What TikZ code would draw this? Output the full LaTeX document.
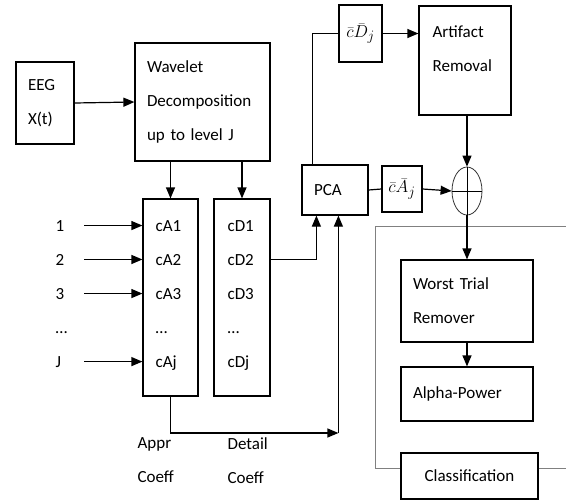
\documentclass[tikz,border=0pt]{standalone}
\usepackage{fontspec}
\setmainfont{Carlito}
\usetikzlibrary{arrows.meta, shapes.geometric, calc}

\begin{document}
\begin{tikzpicture}[x=1pt, y=-1pt, >={Triangle[length=11pt,width=9pt]},
  line width=1.2pt, font=\fontsize{17}{34}\selectfont,
  box/.style={draw, fill=white, inner xsep=12pt, inner ysep=0pt, align=left},
  mbox/.style={draw, fill=white, inner sep=0pt, font=\fontsize{19}{24}\selectfont},
  txt/.style={inner sep=0pt, align=left}]
  \useasboundingbox (0,0) rectangle (566,501);
  % frame round the last stages
  \coordinate (fbl) at (375,468);
  \coordinate (ftl) at (375,226);
  \draw[gray, line width=0.8pt] (fbl) -- (ftl) -- (566,226);
  % input and decomposition
  \node[box, text width=34pt, minimum height=82pt] (eeg) at (45,103) {EEG\\X(t)};
  \node[box, text width=111pt, minimum height=118pt] (wav) at (202.5,102)
    {Wavelet\\Decomposition\\up to level J};
  \node[box, text width=31pt, minimum height=197pt] (ca) at (170.5,297.5) {};
  \node[box, text width=32pt, minimum height=197pt] (cd) at (242,297.5) {};
  % coefficient rows
  \foreach \a/\d/\n [count=\i] in {cA1/cD1/1, cA2/cD2/2, cA3/cD3/3,
      \ldots/\ldots/\ldots, cAj/cDj/J} {
    \node[txt, anchor=base west] (a\i) at (155,197+34*\i) {\a};
    \node[txt, anchor=base west] (d\i) at (227,197+34*\i) {\d};
    \node[txt, anchor=base west, text width=28pt] (n\i) at (55,197+34*\i) {\n};
    \ifnum\i=4\else
      \draw[->] (n\i.east) -- (n\i.east -| ca.west);
    \fi
  }
  \node[txt, anchor=north west] (apr) at (137,437) {Appr\\Coeff};
  \node[txt, anchor=north west] (det) at (227,437) {Detail\\Coeff};
  % PCA and its outputs
  \node[box, text width=42pt, minimum height=50pt] (pca) at (335,190) {PCA};
  \node[mbox, minimum width=43pt, minimum height=57pt] (cdj) at (360.5,33.5)
    {$\bar{c}\bar{D}_j$};
  \node[mbox, minimum width=40pt, minimum height=46pt] (caj) at (402,189)
    {$\bar{c}\bar{A}_j$};
  \node[box, minimum width=92pt, minimum height=109pt] (art) at (465,60.5) {};
  \node[txt, anchor=north west] (artt) at (432,25) {Artifact\\Removal};
  % summing junction
  \node[ellipse, draw=black!80, line width=0.8pt, minimum width=30pt,
    minimum height=48pt, inner sep=0pt] (sum) at (467,191) {};
  \draw[line width=0.9pt] (sum.north) -- (sum.south) (sum.west) -- (sum.east);
  % later stages
  \node[box, text width=108pt, minimum height=82pt] (worst) at (467,301)
    {Worst Trial\\Remover};
  \node[box, text width=108pt, minimum height=54pt] (alpha) at (467,394)
    {Alpha-Power};
  \node[box, text width=113pt, minimum height=46pt, align=center] (cls)
    at (469.5,476) {Classification};
  \draw[gray, line width=0.8pt] (fbl) -- (cls.west |- fbl);
  \draw[gray, line width=0.8pt] (cls.east |- fbl) -- (566,468);
  % connectors
  \draw[->] (eeg.east) -- (wav.west);
  \draw[->] (wav.south -| ca) -- (ca.north);
  \draw[->] (wav.south -| cd) -- (cd.north);
  \coordinate (pin1) at ($(pca.south west)+(15,0)$);
  \coordinate (pin2) at ($(pca.south west)+(37,0)$);
  \coordinate (bend) at (pin2 |- 0,433);
  \draw[->] (cd.east |- d2.east) -| (pin1);
  \draw[->] (ca.south) |- (bend);
  \draw[->] (bend) -- (pin2);
  \draw ($(pca.north west)+(11,0)$) |- (cdj.west);
  \draw[->] (cdj.east) -- (cdj.east -| art.west);
  \draw (pca.east) -- (caj.west);
  \draw[->] (caj.east) -- (sum.west);
  \draw[->] (art.south -| sum) -- (sum.north);
  \draw[->] (sum.south) -- (worst.north);
  \draw[->] (worst.south) -- (alpha.north);
\end{tikzpicture}
\end{document}
